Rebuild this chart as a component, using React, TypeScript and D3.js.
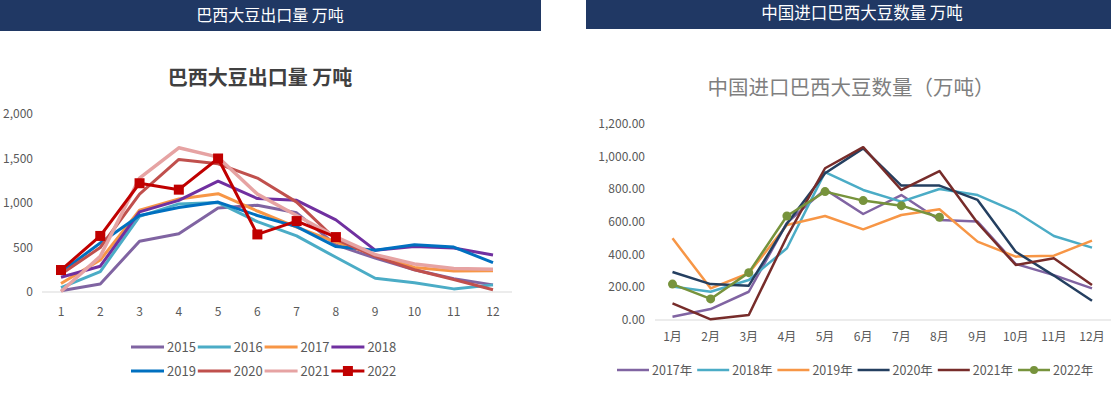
import React from "react";
import * as d3 from "d3";

// ---- Left chart: Brazil soybean exports (万吨)
const leftMonths = [1, 2, 3, 4, 5, 6, 7, 8, 9, 10, 11, 12];
const leftYTicks = [0, 500, 1000, 1500, 2000];
const leftYears = ["2015", "2016", "2017", "2018", "2019", "2020", "2021", "2022"];
const s2015 = [15, 90, 570, 655, 945, 975, 890, 530, 380, 250, 150, 80];
const s2016 = [50, 230, 850, 990, 1005, 790, 630, 390, 155, 105, 35, 80];
const s2017 = [95, 360, 920, 1045, 1105, 910, 730, 560, 420, 275, 235, 240];
const s2018 = [165, 290, 900, 1030, 1245, 1050, 1030, 810, 470, 510, 495, 415];
const s2019 = [225, 550, 860, 950, 1010, 860, 735, 510, 470, 530, 505, 330];
const s2020 = [200, 500, 1100, 1490, 1440, 1280, 1010, 590, 400, 250, 140, 25];
const s2021 = [5, 400, 1280, 1620, 1515, 1100, 860, 620, 420, 315, 265, 255];
const s2022 = [247, 630, 1222, 1150, 1500, 647, 797, 617];
const leftSeries = [s2015, s2016, s2017, s2018, s2019, s2020, s2021, s2022];
const leftColors = ["#8064A2", "#4BACC6", "#F79646", "#7030A0", "#0070C0", "#C0504D", "#E6A3A3", "#C00000"];

// ---- Right chart: China imports of Brazilian soybeans (万吨)
const rightMonths = ["1月", "2月", "3月", "4月", "5月", "6月", "7月", "8月", "9月", "10月", "11月", "12月"];
const rightYTicks = [0, 200, 400, 600, 800, 1000, 1200];
const rightYears = ["2017年", "2018年", "2019年", "2020年", "2021年", "2022年"];
const r2017 = [20, 67, 173, 595, 800, 649, 765, 612, 603, 343, 275, 194];
const r2018 = [205, 173, 245, 439, 905, 796, 725, 802, 765, 663, 514, 443];
const r2019 = [500, 194, 286, 582, 637, 555, 643, 678, 480, 388, 394, 486];
const r2020 = [294, 220, 210, 590, 898, 1051, 823, 823, 735, 418, 272, 118];
const r2021 = [102, 4, 31, 510, 929, 1058, 796, 912, 594, 337, 378, 214];
const r2022 = [220, 129, 290, 637, 786, 731, 700, 629];
const rightSeries = [r2017, r2018, r2019, r2020, r2021, r2022];
const rightColors = ["#8064A2", "#4BACC6", "#F79646", "#243F60", "#772C2A", "#77933C"];

const FONT = "'Noto Sans CJK SC', 'Open Sans', sans-serif";

export default function App() {
  // left scales
  const lx = d3.scaleLinear().domain([1, 12]).range([61, 493]);
  const ly = d3.scaleLinear().domain([0, 2000]).range([292, 114]);
  const lline = d3.line<number>().x((_, i) => lx(leftMonths[i])).y((d) => ly(d));
  const fmtL = d3.format(",");

  // right scales
  const rx = d3.scalePoint<string>().domain(rightMonths).range([672.5, 1092]);
  const ry = d3.scaleLinear().domain([0, 1200]).range([320, 124]);
  const rline = d3.line<number>().x((_, i) => rx(rightMonths[i]) as number).y((d) => ry(d));
  const fmtR = d3.format(",.2f");

  return (
    <svg width={1111} height={398} style={{ position: "absolute", left: 0, top: 0, background: "#fff" }} fontFamily={FONT}>
      {/* headers */}
      <rect x={0} y={0} width={541} height={31} fill="#203864" />
      <text x={270} y={21} textAnchor="middle" fill="#fff" fontSize={16}>巴西大豆出口量 万吨</text>
      <rect x={586} y={0} width={525} height={29} fill="#203864" />
      <text x={862} y={19} textAnchor="middle" fill="#fff" fontSize={16.5}>中国进口巴西大豆数量 万吨</text>

      {/* left chart */}
      <text x={260} y={85} textAnchor="middle" fill="#404040" fontSize={20} fontWeight="bold">巴西大豆出口量 万吨</text>
      {leftYTicks.map((t) => (
        <text key={t} x={33} y={ly(t) + 4} textAnchor="end" fill="#595959" fontSize={12}>{fmtL(t)}</text>
      ))}
      <line x1={42} x2={512} y1={ly(0)} y2={ly(0)} stroke="#d9d9d9" strokeWidth={1} />
      {leftMonths.map((m) => (
        <text key={m} x={lx(m)} y={316} textAnchor="middle" fill="#595959" fontSize={12}>{m}</text>
      ))}
      {leftSeries.map((s, k) => (
        <path key={k} d={lline(s) || ""} fill="none" stroke={leftColors[k]} strokeWidth={k === 6 ? 3.5 : 3} strokeLinejoin="round" />
      ))}
      {s2022.map((v, i) => (
        <rect key={i} x={lx(leftMonths[i]) - 5} y={ly(v) - 5} width={10} height={10} fill="#C00000" />
      ))}
      {leftYears.map((y, k) => {
        const col = k % 4;
        const row = Math.floor(k / 4);
        const x0 = 131 + col * 66.8;
        const yy = 347 + row * 24;
        return (
          <g key={y}>
            <line x1={x0} x2={x0 + 33} y1={yy} y2={yy} stroke={leftColors[k]} strokeWidth={3} />
            {k === 7 && <rect x={x0 + 11.5} y={yy - 5} width={10} height={10} fill="#C00000" />}
            <text x={x0 + 36} y={yy + 5} fill="#595959" fontSize={13}>{y}</text>
          </g>
        );
      })}

      {/* right chart */}
      <text x={851} y={95} textAnchor="middle" fill="#7f7f7f" fontSize={20.5}>中国进口巴西大豆数量（万吨）</text>
      {rightYTicks.map((t) => (
        <text key={t} x={645} y={ry(t) + 4} textAnchor="end" fill="#595959" fontSize={12}>{fmtR(t)}</text>
      ))}
      <line x1={655} x2={1111} y1={ry(0)} y2={ry(0)} stroke="#d9d9d9" strokeWidth={1} />
      {rightMonths.map((m) => (
        <text key={m} x={rx(m) as number} y={341} textAnchor="middle" fill="#595959" fontSize={12}>{m}</text>
      ))}
      {rightSeries.map((s, k) => (
        <path key={k} d={rline(s) || ""} fill="none" stroke={rightColors[k]} strokeWidth={2.5} strokeLinejoin="round" />
      ))}
      {r2022.map((v, i) => (
        <circle key={i} cx={rx(rightMonths[i]) as number} cy={ry(v)} r={4.5} fill="#77933C" />
      ))}
      {rightYears.map((y, k) => {
        const x0 = 617 + k * 80.2;
        const yy = 370;
        return (
          <g key={y}>
            <line x1={x0} x2={x0 + 32} y1={yy} y2={yy} stroke={rightColors[k]} strokeWidth={2.5} />
            {k === 5 && <circle cx={x0 + 16} cy={yy} r={4} fill="#77933C" />}
            <text x={x0 + 35} y={yy + 4.5} fill="#595959" fontSize={12.5}>{y}</text>
          </g>
        );
      })}
    </svg>
  );
}
